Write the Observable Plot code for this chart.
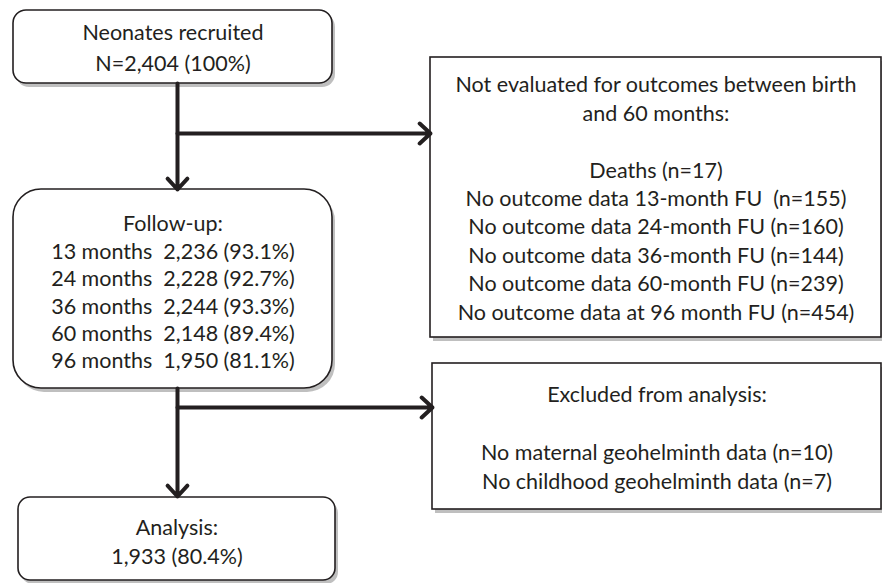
<!DOCTYPE html>
<html>
<head>
<meta charset="utf-8">
<script src="https://cdn.jsdelivr.net/npm/d3@7"></script>
<script src="https://cdn.jsdelivr.net/npm/@observablehq/plot@0.6"></script>
<style>
  html, body { margin: 0; padding: 0; background: #ffffff; }
  #chart svg { display: block; }
</style>
</head>
<body>
<div id="chart"></div>
<script>
// ---- Text content (data) ----
const recruitedLines = ["Neonates recruited", "N=2,404 (100%)"];
const followupLines = [
  "Follow-up:",
  "13 months\u00a0 2,236 (93.1%)",
  "24 months\u00a0 2,228 (92.7%)",
  "36 months\u00a0 2,244 (93.3%)",
  "60 months\u00a0 2,148 (89.4%)",
  "96 months\u00a0 1,950 (81.1%)"
];
const notEvaluatedLines = [
  "Not evaluated for outcomes between birth",
  "and 60 months:",
  "",
  "Deaths (n=17)",
  "No outcome data 13-month FU\u00a0 (n=155)",
  "No outcome data 24-month FU (n=160)",
  "No outcome data 36-month FU (n=144)",
  "No outcome data 60-month FU (n=239)",
  "No outcome data at 96 month FU (n=454)"
];
const excludedLines = [
  "Excluded from analysis:",
  "",
  "No maternal geohelminth data (n=10)",
  "No childhood geohelminth data (n=7)"
];
const analysisLines = ["Analysis:", "1,933 (80.4%)"];

// ---- Layout (pixel positions of the flowchart) ----
const W = 882, H = 583;
const boxes = [
  {name: "recruited", x1: 13, x2: 332, y1: 10, y2: 83, r: 13, top: 33, step: 30.5, lines: recruitedLines},
  {name: "followup", x1: 13, x2: 332, y1: 189, y2: 388, r: 28, top: 224, step: 27.4, lines: followupLines},
  {name: "notEvaluated", x1: 430, x2: 881, y1: 57, y2: 337, r: 0, top: 85, step: 28.4, lines: notEvaluatedLines},
  {name: "excluded", x1: 432, x2: 881, y1: 363, y2: 509, r: 0, top: 395, step: 29, lines: excludedLines},
  {name: "analysis", x1: 18, x2: 335, y1: 497, y2: 580, r: 12, top: 528, step: 28.5, lines: analysisLines}
];
const stemX = 177;
const arrows = [
  {x1: stemX, y1: 83, x2: stemX, y2: 189},
  {x1: stemX, y1: 133, x2: 430, y2: 133},
  {x1: stemX, y1: 388, x2: stemX, y2: 496},
  {x1: stemX, y1: 407, x2: 432, y2: 407}
];

const textRows = boxes.flatMap(b =>
  b.lines.map((t, i) => ({text: t, x: (b.x1 + b.x2) / 2, y: b.top + i * b.step}))
).filter(d => d.text !== "");

const ink = "#231f20";
const fontFamily = "Lato, 'Open Sans', sans-serif";

const marks = [];
// shadows
for (const b of boxes) {
  marks.push(Plot.rect([b], {
    x1: "x1", x2: "x2", y1: "y1", y2: "y2",
    dx: 3, dy: 4, rx: b.r, ry: b.r,
    fill: "#8a8a8a", fillOpacity: 0.55,
    ariaLabel: "shadow"
  }));
}
// boxes
for (const b of boxes) {
  marks.push(Plot.rect([b], {
    x1: "x1", x2: "x2", y1: "y1", y2: "y2",
    rx: b.r, ry: b.r,
    fill: "white", stroke: ink, strokeWidth: 1.6
  }));
}
// arrows
marks.push(Plot.arrow(arrows, {
  x1: "x1", y1: "y1", x2: "x2", y2: "y2",
  stroke: ink, strokeWidth: 4, headLength: 5.5, headAngle: 85
}));
// text
marks.push(Plot.text(textRows, {
  x: "x", y: "y", text: "text",
  fontSize: 21.5, fontFamily, fill: ink, textAnchor: "middle", lineAnchor: "middle"
}));

const chart = Plot.plot({
  width: W,
  height: H,
  margin: 0,
  x: {domain: [0, W], range: [0, W], axis: null},
  y: {domain: [0, H], range: [0, H], axis: null},
  style: {background: "white", fontFamily},
  marks
});

// soft blur on the drop shadows
const svg = d3.select(chart.tagName.toLowerCase() === "svg" ? chart : chart.querySelector("svg"));
const defs = svg.insert("defs", ":first-child");
defs.append("filter").attr("id", "softShadow").attr("x", "-5%").attr("y", "-5%").attr("width", "110%").attr("height", "115%")
  .append("feGaussianBlur").attr("stdDeviation", 2);
svg.selectAll("g[aria-label='shadow']").attr("filter", "url(#softShadow)");

document.getElementById("chart").appendChild(chart);
</script>
</body>
</html>
